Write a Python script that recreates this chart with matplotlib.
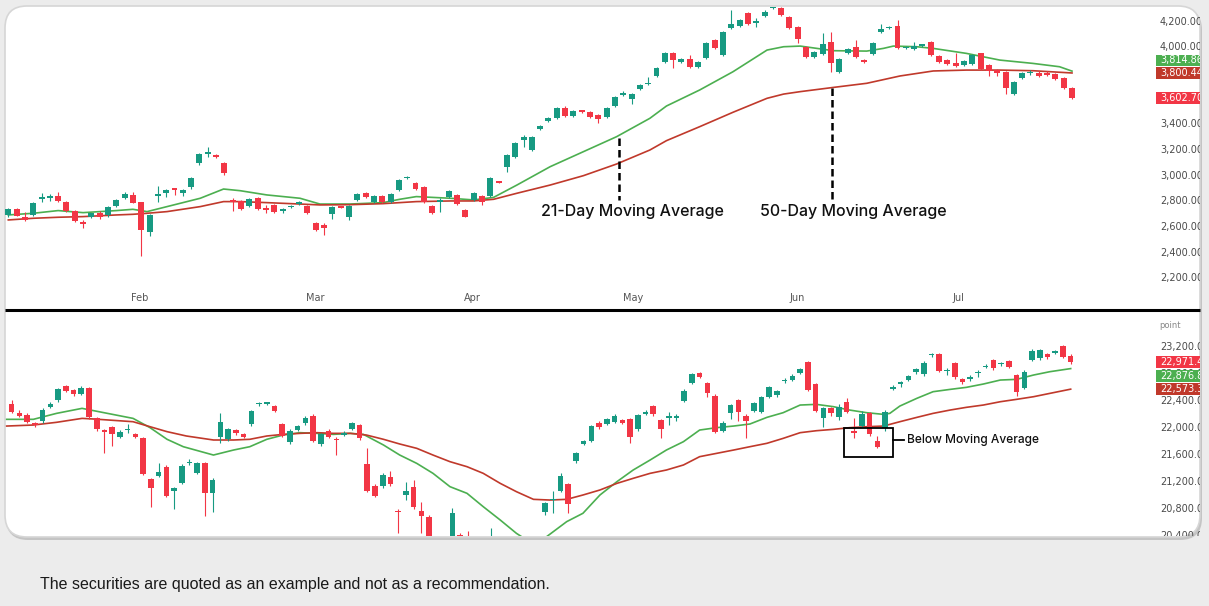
import numpy as np
import matplotlib
matplotlib.use('Agg')
import matplotlib.pyplot as plt
import matplotlib.transforms as mtransforms
from matplotlib.patches import FancyBboxPatch, Rectangle

# ---- upper panel: daily candles (open / high / low / close) ----
top_open = [2694, 2738, 2681, 2694, 2820, 2826, 2842, 2792, 2725, 2634,
            2676, 2712, 2694, 2764, 2824, 2850, 2792, 2564, 2845, 2863,
            2899, 2863, 2909, 3101, 3170, 3164, 3096, 2800, 2803, 2764,
            2829, 2740, 2769, 2722, 2753, 2779, 2764, 2634, 2616, 2701,
            2755, 2676, 2811, 2863, 2792, 2844, 2792, 2889, 2980, 2940,
            2915, 2764, 2798, 2837, 2850, 2733, 2811, 2842, 2842, 2953,
            3070, 3143, 3278, 3200, 3361, 3429, 3452, 3530, 3465, 3507,
            3499, 3473, 3460, 3546, 3629, 3595, 3676, 3712, 3777, 3883,
            3958, 3886, 3909, 3849, 3914, 4057, 3940, 4148, 4166, 4265,
            4190, 4244, 4304, 4304, 4239, 4161, 4005, 3927, 3945, 4044,
            3810, 3953, 4005, 3901, 3945, 4122, 4148, 4166, 3992, 3987,
            4012, 4044, 3933, 3901, 3875, 3862, 3868, 3953, 3862, 3823,
            3810, 3634, 3759, 3797, 3797, 3797, 3792, 3764, 3681]
top_high = [2752, 2750, 2720, 2792, 2863, 2858, 2870, 2800, 2732, 2655,
            2712, 2728, 2760, 2818, 2870, 2872, 2798, 2700, 2920, 2895,
            2905, 2898, 2990, 3180, 3226, 3172, 3104, 2824, 2810, 2824,
            2836, 2772, 2776, 2750, 2770, 2800, 2770, 2640, 2634, 2766,
            2764, 2770, 2865, 2872, 2852, 2852, 2865, 2975, 2995, 2948,
            2922, 2770, 2824, 2890, 2860, 2740, 2870, 2850, 2986, 2960,
            3168, 3260, 3320, 3310, 3395, 3455, 3538, 3545, 3515, 3514,
            3506, 3480, 3538, 3624, 3660, 3642, 3712, 3772, 3850, 3966,
            3966, 3916, 3940, 3890, 4044, 4065, 4125, 4291, 4220, 4272,
            4226, 4290, 4330, 4312, 4246, 4168, 4012, 3975, 4109, 4122,
            3915, 3992, 4060, 3908, 4038, 4182, 4165, 4213, 4012, 4040,
            4030, 4052, 3940, 3908, 3953, 3904, 3948, 3960, 3870, 3830,
            3818, 3740, 3805, 3820, 3812, 3815, 3800, 3772, 3688]
top_low = [2680, 2682, 2645, 2688, 2798, 2805, 2798, 2718, 2640, 2590,
           2668, 2660, 2680, 2758, 2818, 2784, 2374, 2530, 2798, 2830,
           2850, 2845, 2900, 3080, 3148, 3136, 3005, 2727, 2730, 2755,
           2730, 2707, 2712, 2712, 2745, 2772, 2700, 2570, 2538, 2660,
           2745, 2655, 2803, 2825, 2785, 2785, 2785, 2880, 2972, 2886,
           2790, 2700, 2720, 2828, 2770, 2675, 2800, 2770, 2835, 2940,
           3031, 3135, 3226, 3190, 3354, 3422, 3445, 3458, 3458, 3490,
           3452, 3408, 3452, 3538, 3622, 3560, 3668, 3705, 3770, 3876,
           3836, 3878, 3842, 3842, 3906, 3985, 3932, 4140, 4158, 4175,
           4161, 4236, 4296, 4244, 4140, 4031, 3920, 3920, 3938, 3810,
           3800, 3945, 3920, 3879, 3938, 4115, 4140, 3985, 3985, 3980,
           4000, 3933, 3880, 3862, 3850, 3855, 3860, 3822, 3780, 3780,
           3634, 3627, 3752, 3785, 3772, 3777, 3744, 3674, 3596]
top_close = [2740, 2689, 2655, 2785, 2826, 2832, 2803, 2725, 2650, 2624,
             2707, 2676, 2753, 2811, 2855, 2790, 2577, 2694, 2855, 2889,
             2889, 2889, 2979, 3169, 3185, 3143, 3018, 2795, 2738, 2816,
             2738, 2736, 2720, 2743, 2764, 2792, 2707, 2577, 2595, 2759,
             2752, 2764, 2857, 2832, 2844, 2792, 2857, 2966, 2988, 2894,
             2798, 2712, 2803, 2883, 2777, 2681, 2863, 2798, 2979, 2946,
             3161, 3252, 3304, 3299, 3387, 3447, 3530, 3465, 3507, 3496,
             3460, 3442, 3530, 3616, 3636, 3634, 3704, 3720, 3842, 3958,
             3901, 3909, 3849, 3883, 4036, 3992, 4117, 4182, 4213, 4182,
             4195, 4278, 4317, 4252, 4148, 4062, 3927, 3966, 4023, 3875,
             3907, 3984, 3927, 3886, 4031, 4140, 4156, 3992, 4005, 4013,
             4014, 3940, 3888, 3870, 3857, 3896, 3940, 3829, 3816, 3797,
             3681, 3733, 3797, 3799, 3779, 3784, 3751, 3681, 3602.70]

# moving averages (position in bars, value)
top_ma21_pos = [0, 3, 6, 9, 13, 15, 16.7, 19.1, 23.1, 25.9, 27.9, 31.1, 35.1,
                37.5, 41.1, 45.1, 47.1, 49.1, 53.2, 56.0, 58.4, 61.2, 65.2,
                69.2, 73.2, 77.2, 79.2, 83.2, 87.2, 91.3, 93.3, 95.3, 99.3,
                103.3, 105.3, 106.5, 109.3, 111.3, 115.3, 119.3, 123.3, 126.5, 128]
top_ma21 = [2694, 2707, 2728, 2712, 2728, 2738, 2720, 2759, 2824, 2896, 2883,
            2850, 2824, 2779, 2779, 2790, 2816, 2837, 2824, 2811, 2831, 2927,
            3070, 3187, 3304, 3447, 3543, 3668, 3810, 3979, 4005, 4010, 3974,
            3971, 3992, 4010, 4005, 3992, 3953, 3901, 3875, 3849, 3814.86]
top_ma50_pos = [0, 3, 6, 9, 13, 15, 16.7, 19.1, 23.1, 25.9, 27.9, 31.1, 35.1,
                37.5, 41.1, 45.1, 47.1, 49.1, 53.2, 56.0, 58.4, 61.2, 65.2,
                69.2, 73.2, 77.2, 79.2, 83.2, 87.2, 91.3, 93.3, 95.3, 99.3,
                103.3, 107.3, 111.3, 115.3, 119.3, 123.3, 128]
top_ma50 = [2655, 2668, 2676, 2681, 2694, 2699, 2707, 2720, 2759, 2798, 2798,
            2790, 2779, 2772, 2774, 2782, 2790, 2798, 2803, 2803, 2816, 2863,
            2927, 3000, 3091, 3200, 3273, 3382, 3494, 3603, 3636, 3655, 3688,
            3720, 3777, 3816, 3823, 3823, 3818, 3800.44]

top_ticks = [2200, 2400, 2600, 2800, 3000, 3200, 3400, 3600, 3800, 4000, 4200]
months = ['Feb', 'Mar', 'Apr', 'May', 'Jun', 'Jul']
month_pos = [15.8, 36.9, 55.9, 75.2, 94.9, 114.3]

# ---- lower panel ----
bot_open = [22354, 22226, 22192, 22079, 22108, 22315, 22413, 22620, 22561, 22502,
            22585, 22142, 21970, 22010, 21872, 21966, 21906, 21847, 21247, 21296,
            21429, 21075, 21193, 21478, 21341, 21478, 21036, 21862, 21833, 21970,
            21906, 22059, 22349, 22359, 22329, 22059, 21788, 21970, 22069, 22182,
            21764, 21956, 21826, 21896, 21985, 22044, 21464, 21149, 21144, 21272,
            20775, 21011, 21134, 20780, 20691, 20250, 20120, 20350, 20420, 20300,
            20150, 20020, 20250, 20300, 20100, 20200, 20100, 20290, 20200, 20765,
            20930, 21075, 21169, 21513, 21764, 21813, 22079, 22059, 22093, 22118,
            22128, 21980, 22211, 22324, 22118, 22148, 22152, 22398, 22669, 22816,
            22659, 22477, 21960, 22216, 22413, 22182, 22256, 22241, 22462, 22487,
            22693, 22708, 22816, 22969, 22644, 22142, 22290, 22167, 22378, 21956,
            22029, 22216, 21813, 22005, 22580, 22655, 22708, 22821, 22797, 23072,
            23092, 22841, 22954, 22723, 22718, 22811, 22900, 23003, 22939, 22989,
            22782, 22595, 23003, 23028, 23087, 23102, 23210, 23067]
bot_high = [22413, 22260, 22220, 22095, 22300, 22380, 22585, 22635, 22580, 22620,
            22600, 22160, 21990, 22030, 21965, 22059, 21925, 21865, 21265, 21478,
            21450, 21130, 21465, 21540, 21500, 21500, 21255, 22216, 22005, 21990,
            21925, 22270, 22380, 22385, 22345, 22080, 21980, 22050, 22175, 22200,
            21930, 21980, 21872, 21955, 22090, 22065, 21700, 21170, 21330, 21360,
            20800, 21208, 21232, 20912, 20715, 20300, 20330, 20815, 20445, 20485,
            20280, 20250, 20520, 20360, 20300, 20330, 20350, 20380, 20390, 20912,
            21075, 21330, 21190, 21650, 21830, 22050, 22100, 22150, 22200, 22135,
            22145, 22210, 22260, 22345, 22135, 22230, 22200, 22570, 22815, 22830,
            22675, 22495, 22100, 22360, 22430, 22200, 22385, 22475, 22620, 22565,
            22740, 22790, 22890, 22985, 22660, 22310, 22305, 22360, 22440, 22142,
            22250, 22235, 21880, 22260, 22640, 22700, 22785, 22890, 22985, 23100,
            23110, 22880, 22975, 22740, 22775, 22850, 22940, 23020, 22970, 23005,
            22800, 22860, 23160, 23170, 23105, 23155, 23230, 23085]
bot_low = [22226, 22160, 22070, 22020, 22080, 22290, 22390, 22530, 22470, 22480,
           22140, 21955, 21626, 21728, 21850, 21931, 21850, 21300, 20839, 21275,
           20980, 20800, 21170, 21455, 21320, 20701, 20765, 21773, 21810, 21900,
           21850, 22035, 22330, 22340, 22230, 21860, 21765, 21950, 22050, 21790,
           21740, 21850, 21601, 21875, 21965, 21825, 21050, 20975, 21120, 21150,
           20445, 20937, 20810, 20445, 20250, 20020, 20050, 20320, 20180, 20150,
           19950, 19900, 20180, 20050, 19980, 20060, 20020, 20100, 20120, 20716,
           20741, 21050, 20741, 21490, 21745, 21795, 21990, 22040, 22075, 22060,
           21780, 21960, 22195, 22180, 21847, 22050, 22100, 22380, 22650, 22740,
           22460, 21920, 21940, 22130, 22110, 21847, 22235, 22220, 22445, 22460,
           22670, 22690, 22800, 22540, 22230, 22020, 22180, 22120, 22220, 21847,
           22010, 21880, 21700, 21950, 22560, 22600, 22690, 22800, 22770, 23050,
           22820, 22780, 22725, 22650, 22700, 22760, 22880, 22860, 22920, 22885,
           22470, 22575, 22985, 23010, 23025, 23085, 23030, 22950]
bot_close = [22231, 22182, 22093, 22044, 22265, 22349, 22570, 22551, 22497, 22585,
             22167, 21980, 21936, 21906, 21946, 21972, 21872, 21321, 21109, 21355,
             21001, 21109, 21444, 21503, 21478, 21036, 21232, 22093, 21985, 21921,
             21872, 22251, 22359, 22369, 22251, 21882, 21960, 22029, 22152, 21813,
             21906, 21872, 21820, 21931, 22069, 21847, 21075, 20996, 21306, 21174,
             20755, 21075, 20829, 20706, 20330, 20080, 20280, 20740, 20210, 20240,
             20010, 20200, 20390, 20090, 20260, 20110, 20300, 20150, 20350, 20898,
             20940, 21296, 20878, 21636, 21808, 22029, 22010, 22128, 22177, 22079,
             21872, 22192, 22221, 22201, 21985, 22157, 22162, 22551, 22797, 22757,
             22511, 21946, 22079, 22339, 22241, 22108, 22364, 22452, 22600, 22546,
             22703, 22767, 22866, 22561, 22251, 22290, 22216, 22305, 22241, 21921,
             22201, 21906, 21724, 22241, 22590, 22665, 22767, 22871, 22964, 23082,
             22846, 22851, 22748, 22674, 22757, 22821, 22910, 22880, 22954, 22905,
             22536, 22831, 23141, 23151, 23043, 23136, 23052, 22971.40]

bot_ma21_pos = [-0.65, 2.8, 5.8, 9.1, 10.6, 15.7, 17.9, 20.1, 22.2, 26.1, 28.7,
                30.8, 33.0, 35.1, 37.3, 39.5, 41.6, 43.8, 45.5, 48.1, 50.2, 52.4,
                54.5, 56.7, 58.9, 61.0, 63.2, 65.3, 67.0, 69.2, 71.8, 73.9, 76.1,
                78.3, 80.4, 82.6, 84.7, 86.9, 89.0, 91.2, 93.4, 95.5, 97.7, 99.8,
                102.0, 104.1, 106.3, 108.4, 110.6, 112.8, 113.6, 114.9, 117.1,
                119.2, 121.4, 123.5, 125.7, 127.9, 130.0, 132.2, 134.3, 137]
bot_ma21 = [22128, 22128, 22216, 22290, 22256, 22142, 22005, 21833, 21724, 21601,
            21675, 21724, 21833, 21896, 21931, 21921, 21906, 21921, 21906, 21749,
            21601, 21478, 21331, 21134, 21036, 20839, 20642, 20445, 20320, 20396,
            20618, 20741, 21011, 21208, 21380, 21528, 21675, 21798, 21970, 22005,
            22029, 22059, 22157, 22226, 22339, 22349, 22315, 22265, 22226, 22201,
            22216, 22324, 22438, 22536, 22570, 22600, 22649, 22708, 22718, 22782,
            22831, 22876.87]
bot_ma50_pos = [-0.65, 2.8, 5.8, 9.1, 10.6, 15.7, 17.9, 20.1, 22.6, 26.1, 28.7,
                30.8, 33.0, 35.1, 37.3, 39.5, 41.6, 43.8, 45.9, 48.1, 50.2, 52.4,
                54.5, 56.7, 58.9, 61.0, 63.2, 65.3, 67.5, 69.6, 71.8, 73.9, 76.1,
                78.3, 80.4, 82.6, 84.7, 86.9, 89.0, 91.2, 93.4, 95.5, 97.7, 99.8,
                102.0, 104.1, 106.3, 108.4, 110.6, 112.8, 114.9, 117.1, 119.2,
                121.4, 123.5, 125.7, 127.9, 130.0, 132.2, 134.3, 137]
bot_ma50 = [22029, 22044, 22084, 22142, 22133, 22093, 22019, 21946, 21882, 21823,
            21823, 21833, 21882, 21906, 21921, 21931, 21921, 21921, 21896, 21833,
            21764, 21700, 21601, 21503, 21429, 21331, 21183, 21060, 20947, 20937,
            20947, 21011, 21085, 21183, 21257, 21331, 21380, 21454, 21577, 21626,
            21675, 21724, 21774, 21847, 21931, 21960, 21980, 22005, 22019, 22029,
            22093, 22157, 22216, 22265, 22305, 22339, 22388, 22423, 22462, 22511,
            22573.39]

bot_ticks = [20400, 20800, 21200, 21600, 22000, 22400, 22800, 23200]

UP = '#179a82'
DOWN = '#f23645'
MA21_C = '#4caf50'
MA50_C = '#c0392b'
TICK_C = '#4a4a4a'

W, H = 1209, 606
fig = plt.figure(figsize=(W / 100, H / 100), dpi=100)
fig.patch.set_facecolor('#ececec')

# background axes in pixel units, y pointing down
bg = fig.add_axes([0, 0, 1, 1], zorder=0)
bg.set_xlim(0, W)
bg.set_ylim(H, 0)
bg.axis('off')
bg.add_patch(FancyBboxPatch((6, 8), 1196, 532, boxstyle='round,pad=0,rounding_size=22',
                            fc='#c4c4c4', ec='none'))
bg.add_patch(FancyBboxPatch((5, 6), 1195, 531, boxstyle='round,pad=0,rounding_size=22',
                            fc='white', ec='#d6d6d6', lw=1.2))
bg.plot([5, 1200], [310, 310], color='black', lw=2.2, solid_capstyle='butt')


def px_axes(x0, y0, x1, y1):
    ax = fig.add_axes([x0 / W, 1 - y1 / H, (x1 - x0) / W, (y1 - y0) / H], zorder=1)
    ax.patch.set_alpha(0)
    ax.axis('off')
    return ax


def draw_candles(ax, o, h, l, c, min_body):
    o, h, l, c = map(np.asarray, (o, h, l, c))
    idx = np.arange(len(o))
    cols = np.where(c >= o, UP, DOWN)
    ax.vlines(idx, l, h, colors=cols, lw=0.8, zorder=3)
    ax.bar(idx, np.maximum(np.abs(c - o), min_body), 0.72,
           bottom=np.minimum(o, c), color=cols, lw=0, zorder=4)


def price_axis(ax, ticks, tags, tick_x=0.9665):
    tr = mtransforms.blended_transform_factory(ax.transAxes, ax.transData)
    for t in ticks:
        ax.text(tick_x, t, f'{t:,.2f}', transform=tr, fontsize=7, color=TICK_C,
                va='center', ha='left', clip_on=True, zorder=5)
    for val, ypos, col, hgt in tags:
        ax.add_patch(Rectangle((0.9635, ypos - hgt / 2), 0.05, hgt, transform=tr,
                               fc=col, ec='none', zorder=6))
        ax.text(0.9668, ypos, f'{val:,.2f}', transform=tr, fontsize=7, color='white',
                va='center', ha='left', clip_on=True, zorder=7)


# ---- upper panel ----
ax1 = px_axes(5, 7, 1200, 309)
ax1.set_xlim(-0.397, 143.4)
ax1.set_ylim(1961, 4314.6)
draw_candles(ax1, top_open, top_high, top_low, top_close, 12)
ax1.plot(top_ma21_pos, top_ma21, color=MA21_C, lw=1.2, zorder=2)
ax1.plot(top_ma50_pos, top_ma50, color=MA50_C, lw=1.2, zorder=2)
price_axis(ax1, top_ticks, [(top_ma21[-1], 3898, MA21_C, 92),
                            (top_ma50[-1], top_ma50[-1], MA50_C, 92),
                            (top_close[-1], top_close[-1], DOWN, 92)])
mtr = mtransforms.blended_transform_factory(ax1.transData, ax1.transAxes)
for m, p in zip(months, month_pos):
    ax1.text(p, 0.036, m, transform=mtr, fontsize=7, color='#555555', ha='center', va='center')

ax1.plot([73.5, 73.5], [3293, 2810], color='black', lw=1.8, ls=(0, (3, 1.6)), zorder=6)
ax1.plot([99.1, 99.1], [3683, 2810], color='black', lw=1.8, ls=(0, (3, 1.6)), zorder=6)
ax1.text(75.1, 2717, '21-Day Moving Average', fontsize=11.5, family='Inter',
         weight='medium', ha='center', va='center', color='#111111')
ax1.text(101.7, 2717, '50-Day Moving Average', fontsize=11.5, family='Inter',
         weight='medium', ha='center', va='center', color='#111111')

# ---- lower panel ----
ax2 = px_axes(5, 311, 1200, 536)
ax2.set_xlim(-0.867, 153.73)
ax2.set_ylim(20406, 23727)
draw_candles(ax2, bot_open, bot_high, bot_low, bot_close, 22)
ax2.plot(bot_ma21_pos, bot_ma21, color=MA21_C, lw=1.2, zorder=2)
ax2.plot(bot_ma50_pos, bot_ma50, color=MA50_C, lw=1.2, zorder=2)
price_axis(ax2, bot_ticks, [(bot_close[-1], bot_close[-1], DOWN, 170),
                            (bot_ma21[-1], 22767, MA21_C, 170),
                            (bot_ma50[-1], bot_ma50[-1], MA50_C, 170)])
ax2.text(0.966, 0.935, 'point', transform=ax2.transAxes, fontsize=6, color='#888888',
         ha='left', va='center')

ax2.add_patch(Rectangle((107.7, 21571), 6.3, 428, fill=False, ec='black', lw=1.3, zorder=6))
ax2.plot([114.0, 115.4], [21823, 21823], color='black', lw=1.3, zorder=6)
ax2.text(115.8, 21823, 'Below Moving Average', fontsize=8.6, family='Inter',
         weight='medium', ha='left', va='center', color='#111111')

fig.text(40 / W, 1 - 585 / H, 'The securities are quoted as an example and not as a recommendation.',
         fontsize=11.5, family='Liberation Sans', color='#1a1a1a', va='center', ha='left')

fig.savefig('out.png', dpi=100)
